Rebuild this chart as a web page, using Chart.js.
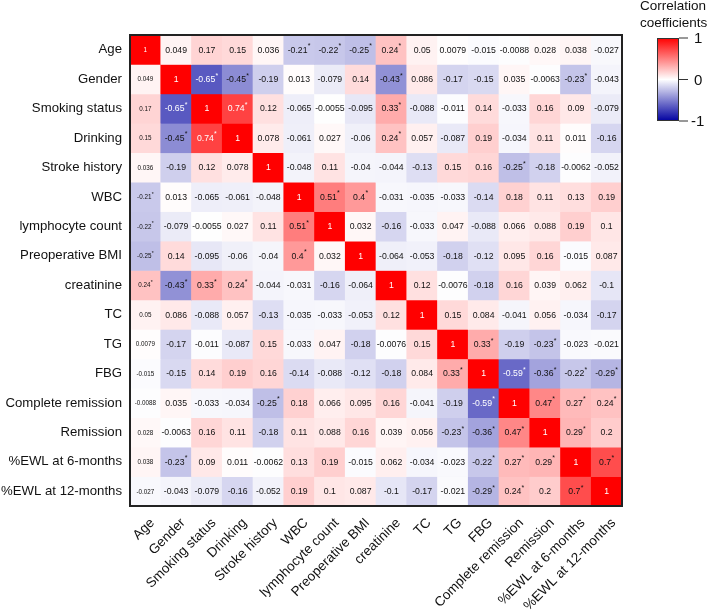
<!DOCTYPE html>
<html>
<head>
<meta charset="utf-8">
<script src="https://cdn.jsdelivr.net/npm/chart.js@4.4.1/dist/chart.umd.min.js"></script>
<style>
    html, body { margin: 0; padding: 0; background: #fff; }
    #wrap { width: 708px; height: 613px; }
</style>
</head>
<body>
<div id="wrap"><canvas id="heatmap" width="708" height="613"></canvas></div>
<script>
// ─── Data ─────────────────────────────────────────────────────────────────

const variables = [
    'Age', 'Gender', 'Smoking status', 'Drinking', 'Stroke history', 'WBC',
    'lymphocyte count', 'Preoperative BMI', 'creatinine', 'TC', 'TG', 'FBG',
    'Complete remission', 'Remission', '%EWL at 6-months', '%EWL at 12-months',
];

// Pearson correlation matrix, row by row (symmetric)
const rowAge        = [1, 0.049, 0.17, 0.15, 0.036, -0.21, -0.22, -0.25, 0.24, 0.05, 0.0079, -0.015, -0.0088, 0.028, 0.038, -0.027];
const rowGender     = [0.049, 1, -0.65, -0.45, -0.19, 0.013, -0.079, 0.14, -0.43, 0.086, -0.17, -0.15, 0.035, -0.0063, -0.23, -0.043];
const rowSmoking    = [0.17, -0.65, 1, 0.74, 0.12, -0.065, -0.0055, -0.095, 0.33, -0.088, -0.011, 0.14, -0.033, 0.16, 0.09, -0.079];
const rowDrinking   = [0.15, -0.45, 0.74, 1, 0.078, -0.061, 0.027, -0.06, 0.24, 0.057, -0.087, 0.19, -0.034, 0.11, 0.011, -0.16];
const rowStroke     = [0.036, -0.19, 0.12, 0.078, 1, -0.048, 0.11, -0.04, -0.044, -0.13, 0.15, 0.16, -0.25, -0.18, -0.0062, -0.052];
const rowWBC        = [-0.21, 0.013, -0.065, -0.061, -0.048, 1, 0.51, 0.4, -0.031, -0.035, -0.033, -0.14, 0.18, 0.11, 0.13, 0.19];
const rowLymph      = [-0.22, -0.079, -0.0055, 0.027, 0.11, 0.51, 1, 0.032, -0.16, -0.033, 0.047, -0.088, 0.066, 0.088, 0.19, 0.1];
const rowBMI        = [-0.25, 0.14, -0.095, -0.06, -0.04, 0.4, 0.032, 1, -0.064, -0.053, -0.18, -0.12, 0.095, 0.16, -0.015, 0.087];
const rowCreatinine = [0.24, -0.43, 0.33, 0.24, -0.044, -0.031, -0.16, -0.064, 1, 0.12, -0.0076, -0.18, 0.16, 0.039, 0.062, -0.1];
const rowTC         = [0.05, 0.086, -0.088, 0.057, -0.13, -0.035, -0.033, -0.053, 0.12, 1, 0.15, 0.084, -0.041, 0.056, -0.034, -0.17];
const rowTG         = [0.0079, -0.17, -0.011, -0.087, 0.15, -0.033, 0.047, -0.18, -0.0076, 0.15, 1, 0.33, -0.19, -0.23, -0.023, -0.021];
const rowFBG        = [-0.015, -0.15, 0.14, 0.19, 0.16, -0.14, -0.088, -0.12, -0.18, 0.084, 0.33, 1, -0.59, -0.36, -0.22, -0.29];
const rowComplete   = [-0.0088, 0.035, -0.033, -0.034, -0.25, 0.18, 0.066, 0.095, 0.16, -0.041, -0.19, -0.59, 1, 0.47, 0.27, 0.24];
const rowRemission  = [0.028, -0.0063, 0.16, 0.11, -0.18, 0.11, 0.088, 0.16, 0.039, 0.056, -0.23, -0.36, 0.47, 1, 0.29, 0.2];
const rowEWL6       = [0.038, -0.23, 0.09, 0.011, -0.0062, 0.13, 0.19, -0.015, 0.062, -0.034, -0.023, -0.22, 0.27, 0.29, 1, 0.7];
const rowEWL12      = [-0.027, -0.043, -0.079, -0.16, -0.052, 0.19, 0.1, 0.087, -0.1, -0.17, -0.021, -0.29, 0.24, 0.2, 0.7, 1];

const corr = [rowAge, rowGender, rowSmoking, rowDrinking, rowStroke, rowWBC, rowLymph, rowBMI,
              rowCreatinine, rowTC, rowTG, rowFBG, rowComplete, rowRemission, rowEWL6, rowEWL12];

// Significant pairs (p < 0.05), marked with an asterisk — [row, col], mirrored below
const significantPairs = [
    [0, 5], [0, 6], [0, 7], [0, 8], [1, 2], [1, 3], [1, 8], [1, 14], [2, 3], [2, 8], [3, 8],
    [4, 12], [5, 6], [5, 7], [10, 11], [10, 13], [11, 12], [11, 13], [11, 14], [11, 15],
    [12, 13], [12, 14], [12, 15], [13, 14], [14, 15],
];

const colorbarTicks = [1, 0, -1];

// ─── Helpers ──────────────────────────────────────────────────────────────

const isSignificant = (r, c) => r !== c && significantPairs.some(([a, b]) => (a === r && b === c) || (a === c && b === r));

/** White → red for positive, white → navy blue for negative. */
function cellColor(v) {
    const t = Math.min(1, Math.abs(v));
    if (v >= 0) {
        const g = Math.round(255 * (1 - t));
        return `rgb(255, ${g}, ${g})`;
    }
    const rg = Math.round(255 * (1 - t));
    const b  = Math.round(255 - t * (255 - 160));
    return `rgb(${rg}, ${rg}, ${b})`;
}

const textColor = v => (v > 0.72 || v < -0.5) ? '#ffffff' : '#111111';

const FONT = '"Liberation Sans", Arial, Helvetica, sans-serif';

// ─── Plugins ──────────────────────────────────────────────────────────────

const cellLabels = {
    id: 'cellLabels',
    afterDatasetsDraw(chart) {
        const ctx = chart.ctx;
        ctx.save();
        ctx.textBaseline = 'middle';
        chart.data.datasets.forEach((ds, r) => {
            chart.getDatasetMeta(r).data.forEach((bar, c) => {
                const v    = corr[r][c];
                const txt  = String(v);
                const star = isSignificant(r, c);
                const size = c === 0 ? 6.3 : 8.7;
                const cy   = (bar.y + bar.base) / 2;
                ctx.font = `${size}px ${FONT}`;
                const w  = ctx.measureText(txt).width;
                const sw = star ? size * 0.35 : 0;
                const x0 = bar.x - (w + sw) / 2;
                ctx.fillStyle = textColor(v);
                ctx.textAlign = 'left';
                ctx.fillText(txt, x0, cy + 0.5);
                if (star) {
                    ctx.font = `${size * 0.8}px ${FONT}`;
                    ctx.fillText('*', x0 + w + 0.3, cy - size * 0.4);
                }
            });
        });
        ctx.restore();
    },
};

const frameAndColorbar = {
    id: 'frameAndColorbar',
    afterDraw(chart) {
        const ctx = chart.ctx;
        const a   = chart.chartArea;
        ctx.save();

        // heavy frame round the matrix
        ctx.strokeStyle = '#222';
        ctx.lineWidth   = 2;
        ctx.strokeRect(a.left, a.top, a.right - a.left, a.bottom - a.top);

        // colour bar
        const bx = 657, by = 38, bw = 22, bh = 83;
        const grad = ctx.createLinearGradient(0, by, 0, by + bh);
        for (let i = 0; i <= 20; i++) grad.addColorStop(i / 20, cellColor(1 - i / 10));
        ctx.fillStyle = grad;
        ctx.fillRect(bx, by, bw, bh);
        ctx.strokeStyle = '#333';
        ctx.lineWidth   = 1;
        ctx.strokeRect(bx + 0.5, by + 0.5, bw - 1, bh - 1);

        ctx.fillStyle    = '#111';
        ctx.font         = `15px ${FONT}`;
        ctx.textAlign    = 'left';
        ctx.textBaseline = 'middle';
        colorbarTicks.forEach(t => {
            const y = by + (1 - t) / 2 * bh;
            ctx.beginPath();
            ctx.moveTo(bx + bw, y);
            ctx.lineTo(bx + bw + 9, y);
            ctx.stroke();
            ctx.fillText(String(t), bx + bw + (t < 0 ? 12 : 15), y + 1);
        });

        ctx.font = `13.5px ${FONT}`;
        ctx.fillText('Correlation', 640, 6);
        ctx.fillText('coefficients', 640, 23);
        ctx.restore();
    },
};

// ─── Chart ────────────────────────────────────────────────────────────────

const datasets = corr.map((row, r) => ({
    label:              variables[r],
    data:               row.map(() => [r - 0.5, r + 0.5]),
    backgroundColor:    row.map(cellColor),
    borderWidth:        0,
    barPercentage:      1,
    categoryPercentage: 1,
    grouped:            false,
}));

new Chart(document.getElementById('heatmap'), {
    type: 'bar',
    data: { labels: variables, datasets },
    options: {
        responsive: false,
        animation:  false,
        layout:     { padding: { top: 35, right: 86, left: 0, bottom: 0 } },
        plugins:    { legend: { display: false }, tooltip: { enabled: false } },
        scales: {
            x: {
                grid:   { display: false, drawTicks: false },
                border: { display: false },
                ticks:  {
                    color: '#111', font: { family: FONT, size: 13.5 },
                    minRotation: 45, maxRotation: 45, autoSkip: false,
                    padding: 9, labelOffset: 7,
                },
                afterFit: scale => { scale.height = 107; },
            },
            y: {
                type:    'linear',
                min:     -0.5,
                max:     15.5,
                reverse: true,
                grid:    { display: false, drawTicks: false },
                border:  { display: false },
                afterBuildTicks: scale => { scale.ticks = variables.map((_, i) => ({ value: i })); },
                ticks: {
                    color: '#111', font: { family: FONT, size: 13.2 }, padding: 8,
                    callback: v => variables[v] ?? '',
                },
                afterFit: scale => { scale.width = 130; },
            },
        },
    },
    plugins: [cellLabels, frameAndColorbar],
});
</script>
</body>
</html>
